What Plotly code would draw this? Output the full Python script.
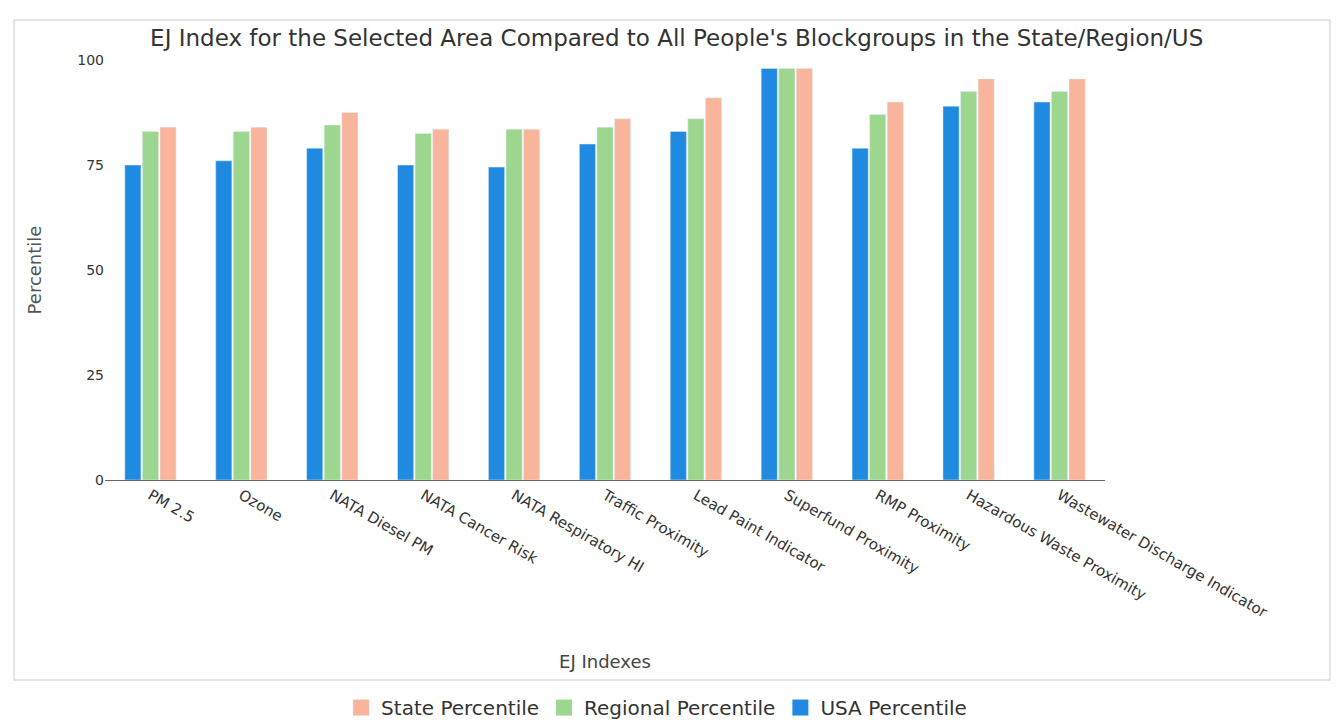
import plotly.graph_objects as go

categories = ["PM 2.5", "Ozone", "NATA Diesel PM", "NATA Cancer Risk", "NATA Respiratory HI",
              "Traffic Proximity", "Lead Paint Indicator", "Superfund Proximity", "RMP Proximity",
              "Hazardous Waste Proximity", "Wastewater Discharge Indicator"]
usa_pct = [75, 76, 79, 75, 74.5, 80, 83, 98, 79, 89, 90]
regional_pct = [83, 83, 84.5, 82.5, 83.5, 84, 86, 98, 87, 92.5, 92.5]
state_pct = [84, 84, 87.5, 83.5, 83.5, 86, 91, 98, 90, 95.5, 95.5]
y_ticks = [0, 25, 50, 75, 100]

series = [("USA Percentile", usa_pct, "#1f8ae0"),
          ("Regional Percentile", regional_pct, "#9dd68e"),
          ("State Percentile", state_pct, "#f9b59c")]

fig = go.Figure()
for name, vals, col in series:
    fig.add_trace(go.Bar(name=name, x=categories, y=vals, marker_color=col,
                         showlegend=False, legendgroup=name))
for name, vals, col in series:
    fig.add_trace(go.Scatter(name=name, x=[None], y=[None], mode="markers", legendgroup=name,
                             marker=dict(symbol="square", size=16, color=col)))

fig.update_layout(
    width=1340, height=722,
    paper_bgcolor="white", plot_bgcolor="white",
    margin=dict(l=105, r=235, t=60, b=242),
    barmode="group", bargap=0.42, bargroupgap=0.08,
    title=dict(text="EJ Index for the Selected Area Compared to All People's Blockgroups in the State/Region/US",
               x=0.505, xanchor="center", y=0.948, yanchor="middle",
               font=dict(family="DejaVu Sans", size=23, color="#333333")),
    font=dict(family="DejaVu Sans", color="#444444"),
    showlegend=True,
    legend=dict(orientation="h", x=0.49, xanchor="center", xref="container",
                y=0.02, yanchor="middle", yref="container",
                traceorder="reversed", font=dict(size=20, color="#333333"),
                itemwidth=30),
    xaxis=dict(tickangle=30, tickfont=dict(size=15, color="#333333"),
               showline=True, linecolor="#666666", linewidth=1, showgrid=False,
               ticks="", title=dict(text="EJ Indexes", font=dict(size=18, color="#444444"), standoff=34)),
    yaxis=dict(range=[0, 100], tickvals=y_ticks, showgrid=False, zeroline=False,
               tickfont=dict(size=14, color="#333333"), ticks="", ticklen=0,
               title=dict(text="Percentile", font=dict(size=18, color="#555555"), standoff=30)),
)
fig.add_shape(type="rect", xref="paper", yref="paper", x0=-0.091, x1=1.225, y0=-0.476, y1=1.095,
              line=dict(color="#dddddd", width=1.5))
fig.write_html("out.html")
